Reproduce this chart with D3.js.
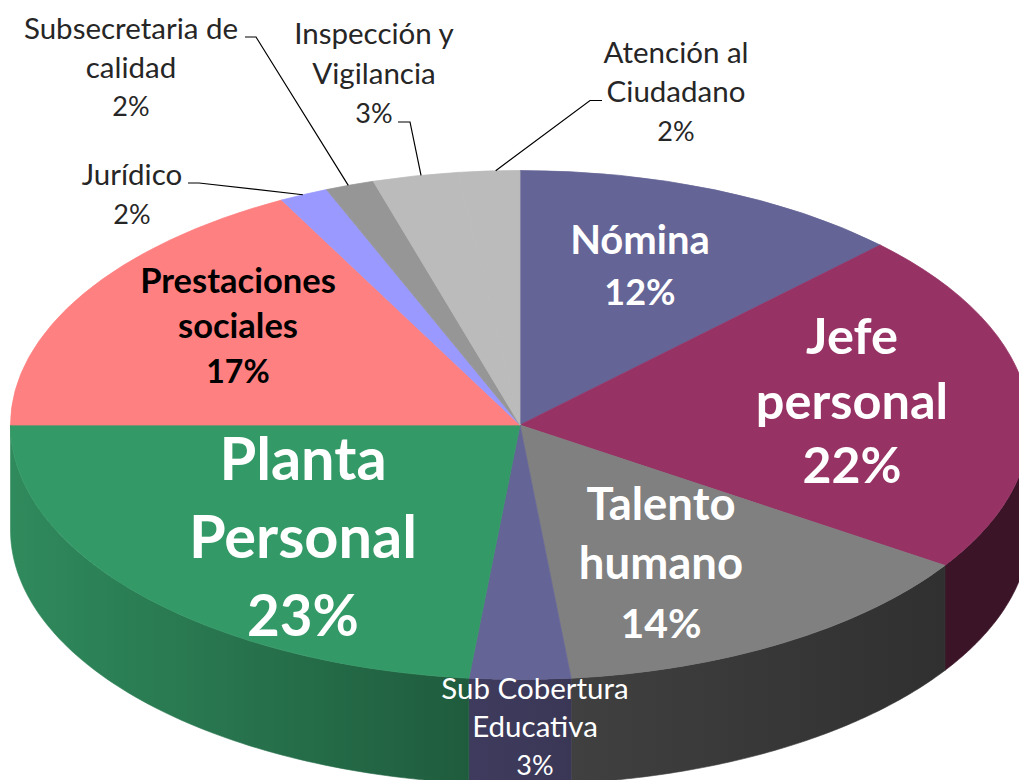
<!DOCTYPE html>
<html>
<head>
<meta charset="utf-8">
<script src="https://cdn.jsdelivr.net/npm/d3@7"></script>
<style>
    html, body { margin: 0; padding: 0; background: #fff; overflow: hidden; }
    text { font-family: Lato, "Open Sans", sans-serif; }
</style>
</head>
<body>
<svg id="vis"></svg>
<script>
// slice names and shares, clockwise from 12 o'clock
const categories = ["Nómina", "Jefe personal", "Talento humano", "Sub Cobertura Educativa", "Planta Personal",
    "Prestaciones sociales", "Jurídico", "Subsecretaria de calidad", "Inspección y Vigilancia", "Atención al Ciudadano"];
const shares = [12.5, 21.8, 14.1, 3.2, 23.4, 17.25, 1.55, 1.55, 2.7, 1.95];
const percentLabels = ["12%", "22%", "14%", "3%", "23%", "17%", "2%", "2%", "3%", "2%"];
const topColors = ["#646496", "#963264", "#808080", "#646496", "#339966", "#ff8080", "#9999ff", "#969696", "#bbbbbb", "#bbbbbb"];
const wallLeft = ["#3c3c5a", "#3c1428", "#404040", "#3f3b5e", "#2f8a5c", "#994d4d", "#5c5c99", "#5a5a5a", "#707070", "#707070"];
const wallRight = ["#3c3c5a", "#3c1428", "#303030", "#3a3756", "#1f5c3e", "#994d4d", "#5c5c99", "#5a5a5a", "#707070", "#707070"];

const WIDTH = 1019;
const HEIGHT = 780;
const CX = 520;
const CY = 425;
const RX = 509.5;
const RY = 254.5;
const DEPTH = 105;

// label text placement, one row per slice: lines, anchor x, first baseline, line step, sizes, weight, colour
const labelLayout = [
    { lines: ["Nómina"], x: 640, y: 254, step: 51, size: 40, pct: 36, weight: 700, fill: "#fff" },
    { lines: ["Jefe", "personal"], x: 852, y: 354, step: 64.5, size: 50.5, pct: 50, weight: 700, fill: "#fff" },
    { lines: ["Talento", "humano"], x: 661, y: 520, step: 59, size: 45.5, pct: 41, weight: 700, fill: "#fff" },
    { lines: ["Sub Cobertura", "Educativa"], x: 535, y: 699, step: 38, size: 29.5, pct: 27, weight: 400, fill: "#fff" },
    { lines: ["Planta", "Personal"], x: 303, y: 480, step: 78, size: 59.5, pct: 56.5, weight: 700, fill: "#fff" },
    { lines: ["Prestaciones", "sociales"], x: 238, y: 293, step: 45, size: 34.5, pct: 32, weight: 700, fill: "#000" },
    { lines: ["Jurídico"], x: 132, y: 185, step: 39, size: 29.5, pct: 27, weight: 400, fill: "#262626" },
    { lines: ["Subsecretaria de", "calidad"], x: 131, y: 39, step: 38.5, size: 29.5, pct: 27, weight: 400, fill: "#262626" },
    { lines: ["Inspección y", "Vigilancia"], x: 374, y: 44, step: 39.5, size: 29.5, pct: 27, weight: 400, fill: "#262626" },
    { lines: ["Atención al", "Ciudadano"], x: 676, y: 63, step: 39, size: 29.5, pct: 27, weight: 400, fill: "#262626" }
];

// leader lines: slice index, where on the slice's rim they end, and the elbow points before it
const leaders = [
    { slice: 6, at: 0.48, from: [[188, 183], [199, 183]] },
    { slice: 7, at: 0.47, from: [[245, 37], [256, 37]] },
    { slice: 8, at: 0.57, from: [[398, 122], [410, 122]] },
    { slice: 9, at: 0.61, from: [[602, 100.5], [590, 100.5]] }
];

const svg = d3.select("#vis")
    .attr("width", WIDTH)
    .attr("height", HEIGHT)
    .style("display", "block");

const defs = svg.append("defs");

const pie = d3.pie().sort(null).value(d => d);
const slices = pie(shares);

// ellipse point for a pie angle (0 = top, clockwise)
function rim(angle, drop) {
    return [CX + RX * Math.sin(angle), CY - RY * Math.cos(angle) + drop];
}

// side walls, only for the part of the rim that faces the viewer
const line = d3.line();
const wallGroup = svg.append("g");
slices.forEach(function (s, i) {
    const a0 = Math.max(s.startAngle, Math.PI / 2);
    const a1 = Math.min(s.endAngle, Math.PI * 1.5);
    if (a1 <= a0) return;
    const angles = d3.range(0, 81).map(k => a0 + (a1 - a0) * k / 80);
    const pts = angles.map(a => rim(a, 0)).concat(angles.slice().reverse().map(a => rim(a, DEPTH)));
    const xs = pts.map(p => p[0]);
    const grad = defs.append("linearGradient")
        .attr("id", "wall" + i)
        .attr("gradientUnits", "userSpaceOnUse")
        .attr("x1", d3.min(xs)).attr("x2", d3.max(xs))
        .attr("y1", 0).attr("y2", 0);
    grad.append("stop").attr("offset", 0).attr("stop-color", wallLeft[i]);
    grad.append("stop").attr("offset", 1).attr("stop-color", wallRight[i]);
    wallGroup.append("path")
        .attr("d", line(pts) + "Z")
        .attr("fill", "url(#wall" + i + ")")
        .attr("stroke", "url(#wall" + i + ")")
        .attr("stroke-width", 0.6);
});

// top face, thin same-colour stroke hides the seams
const arc = d3.arc().innerRadius(0).outerRadius(RX);
svg.append("g")
    .attr("transform", `translate(${CX},${CY}) scale(1,${RY / RX})`)
    .selectAll("path")
    .data(slices)
    .enter()
    .append("path")
    .attr("d", arc)
    .attr("fill", (d, i) => topColors[i])
    .attr("stroke", (d, i) => topColors[i])
    .attr("stroke-width", 1);

// leader lines
leaders.forEach(function (l) {
    const s = slices[l.slice];
    const end = rim(s.startAngle + (s.endAngle - s.startAngle) * l.at, 0);
    svg.append("path")
        .attr("d", line(l.from.concat([end])))
        .attr("fill", "none")
        .attr("stroke", "#000")
        .attr("stroke-width", 1.2);
});

// labels, percent goes on the last line
labelLayout.forEach(function (lab, i) {
    const t = svg.append("text")
        .attr("text-anchor", "middle")
        .attr("font-weight", lab.weight)
        .attr("fill", lab.fill);
    lab.lines.forEach(function (str, k) {
        t.append("tspan")
            .attr("x", lab.x)
            .attr("y", lab.y + k * lab.step)
            .attr("font-size", lab.size)
            .text(str);
    });
    t.append("tspan")
        .attr("x", lab.x)
        .attr("y", lab.y + lab.lines.length * lab.step)
        .attr("font-size", lab.pct)
        .text(percentLabels[i]);
});
</script>
</body>
</html>
